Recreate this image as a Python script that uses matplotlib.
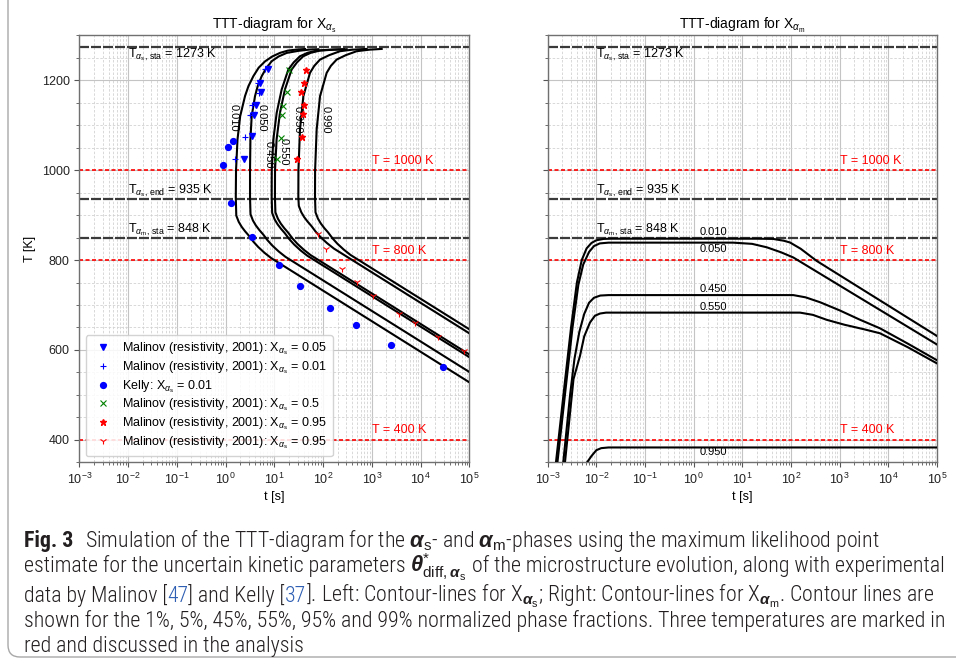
import numpy as np
import matplotlib
matplotlib.use("Agg")
import matplotlib.pyplot as plt
from matplotlib import font_manager, mathtext
from matplotlib.ticker import LogLocator, MultipleLocator, NullFormatter
from matplotlib.patches import FancyBboxPatch
from matplotlib.transforms import IdentityTransform

# ---------------------------------------------------------------- data
# characteristic temperatures [K]
T_as_sta, T_as_end, T_am_sta = 1273, 935, 848
T_marked = [1000, 800, 400]

# experimental points (t [s], T [K])
kelly_t = [0.90, 1.14, 1.44, 1.32, 3.57, 12.7, 33.6, 139, 468, 2480, 29300]
kelly_T = [1011, 1051, 1064, 928, 852, 788, 742, 693, 656, 611, 562]

mal05_t = [7.53, 5.09, 5.34, 4.21, 3.89, 3.44, 2.42]
mal05_T = [1224, 1193, 1173, 1144, 1122, 1076, 1025]

mal01_t = [6.44, 4.70, 4.92, 3.54, 3.17, 2.51, 1.56]
mal01_T = [1224, 1194, 1172, 1144, 1122, 1073, 1024]

mal50_t = [20.3, 17.9, 14.9, 14.2, 13.5, 11.2]
mal50_T = [1222, 1173, 1142, 1122, 1072, 1024]

mal95a_t = [44.7, 41.2, 35.3, 40.6, 39.4, 37.0, 29.6]
mal95a_T = [1222, 1193, 1173, 1144, 1124, 1074, 1025]

mal95b_t = [80, 115, 242, 505, 1040, 3660, 7690, 23100, 78900]
mal95b_T = [857, 825, 781, 752, 720, 679, 659, 628, 598]

# simulated contour lines, X_alpha_s  (log10 t [s], T [K])
s010_lt = [1.63, 1.46, 1.28, 1.12, 0.96, 0.81, 0.68, 0.57, 0.47, 0.40, 0.30, 0.245,
           0.215, 0.21, 0.22, 0.27, 0.33, 0.40, 0.48, 0.57, 0.67, 0.80, 0.94, 5.0]
s010_T = [1269.5, 1268.3, 1266, 1261, 1253, 1242, 1228, 1209, 1187, 1165, 1120, 1068,
          1000, 940, 899, 885, 874, 864, 854, 841, 829, 816, 804, 528]

s050_lt = [1.903, 1.73, 1.50, 1.254, 1.09, 0.946, 0.83, 0.741, 0.66, 0.604, 0.536, 0.51,
           0.502, 0.502, 0.512, 0.562, 0.622, 0.692, 0.772, 0.862, 0.962, 1.092, 1.232, 5.0]
s050_T = [1269, 1268.3, 1265.5, 1260.8, 1253, 1242.3, 1226, 1209, 1187, 1164.5, 1120, 1068,
          1000, 940, 901.9, 887.9, 876.9, 866.9, 856.9, 843.9, 831.9, 818.9, 806.9, 551]

s450_lt = [2.43, 2.15, 1.869, 1.68, 1.527, 1.40, 1.288, 1.151, 1.049, 0.98, 0.948, 0.946,
           0.956, 1.006, 1.066, 1.136, 1.216, 1.306, 1.406, 1.536, 1.676, 5.0]
s450_T = [1269, 1268, 1266, 1261, 1253.4, 1240, 1223.8, 1179.4, 1127.5, 1068, 1000, 940,
          904.7, 890.7, 879.7, 869.7, 859.7, 846.7, 834.7, 821.7, 809.7, 584]

s550_lt = [2.485, 2.21, 1.936, 1.747, 1.594, 1.467, 1.355, 1.218, 1.116, 1.047, 1.015, 1.013,
           1.023, 1.073, 1.133, 1.203, 1.283, 1.373, 1.473, 1.603, 1.743, 5.0]
s550_T = [1269, 1268, 1266, 1261, 1253.4, 1240, 1223.8, 1179.4, 1127.5, 1068, 1000, 940,
          906.1, 892.1, 881.1, 871.1, 861.1, 848.1, 836.1, 823.1, 811.1, 590]

s950_lt = [2.895, 2.60, 2.348, 2.13, 1.938, 1.82, 1.732, 1.596, 1.527, 1.495, 1.493,
           1.503, 1.553, 1.613, 1.683, 1.763, 1.853, 1.953, 2.083, 2.223, 5.0]
s950_T = [1269.7, 1268, 1264.6, 1256, 1246, 1232, 1216.4, 1164.5, 1090.5, 1000, 940,
          920.5, 906.5, 895.5, 885.5, 875.5, 862.5, 850.5, 837.5, 825.5, 637]

s990_lt = [3.203, 2.95, 2.69, 2.47, 2.279, 2.16, 2.074, 1.938, 1.869, 1.837, 1.835,
           1.845, 1.895, 1.955, 2.025, 2.105, 2.195, 2.295, 2.425, 2.565, 5.0]
s990_T = [1269.7, 1268, 1264.6, 1256, 1246, 1232, 1216.4, 1164.5, 1090.5, 1000, 940,
          906.2, 892.2, 881.2, 871.2, 861.2, 848.2, 836.2, 823.2, 811.2, 646]

# simulated contour lines, X_alpha_m  (log10 t [s], T [K])
m010_lt = [-2.83, -2.64, -2.52, -2.40, -2.30, -2.20, -2.10, -2.00, -1.85, -1.70,
           1.30, 1.63, 1.85, 1.98, 2.20, 2.528, 5.0]
m010_T = [350, 535, 650, 750, 800, 826, 838, 844, 847, 847.5,
          847.5, 847, 843, 839, 825, 798, 631]

m050_lt = [-2.80, -2.61, -2.49, -2.37, -2.27, -2.15, -2.05, -1.93, -1.75,
           0.81, 1.20, 1.50, 1.80, 2.047, 5.0]
m050_T = [350, 535, 650, 745, 790, 818, 831, 837, 838.7,
          838.7, 836, 828.4, 817, 805.7, 612]

m450_lt = [-2.68, -2.54, -2.45, -2.35, -2.25, -2.15, -2.05, -1.92, -1.75,
           2.047, 2.30, 2.60, 3.0, 3.4, 3.83, 4.4, 5.0]
m450_T = [350, 500, 580, 640, 680, 705, 716, 721, 722,
          722, 717, 706, 688, 668, 648, 614, 577]

m550_lt = [-2.645, -2.47, -2.336, -2.25, -2.131, -2.03, -1.925, -1.80,
           2.186, 2.45, 2.734, 3.1, 3.5, 3.83, 4.4, 5.0]
m550_T = [350, 535, 587, 630, 661, 676, 681, 683,
          683, 678, 667, 656, 646, 637, 606, 570]

m950_lt = [-2.19, -2.10, -2.00, -1.90, -1.75, 5.0]
m950_T = [350, 364, 377, 381.5, 383, 383]

# contour label positions (log10 t, T)
s_labels = ["0.010", "0.050", "0.450", "0.550", "0.950", "0.990"]
s_label_lt = [0.160, 0.741, 0.878, 1.199, 1.473, 2.061]
s_label_T = [1116, 1116, 1035, 1042, 1113, 1113]

m_labels = ["0.010", "0.050", "0.450", "0.550", "0.950"]
m_label_lt = [0.40, 0.40, 0.40, 0.40, 0.40]
m_label_T = [862, 824, 735, 696, 374]

# ---------------------------------------------------------------- style
plt.rcParams["font.family"] = ["Liberation Sans", "DejaVu Sans"]
plt.rcParams["mathtext.fontset"] = "custom"
plt.rcParams["mathtext.rm"] = "Liberation Sans"
plt.rcParams["mathtext.it"] = "Liberation Sans:italic"
plt.rcParams["mathtext.bf"] = "Liberation Sans:bold"
try:
    plt.rcParams["mathtext.bfit"] = "Liberation Sans:italic:bold"
except KeyError:
    pass


def mathtext_ok(s):
    try:
        mathtext.MathTextParser("path").parse(s, dpi=72)
        return True
    except Exception:
        return False


BA = r"\boldsymbol{\alpha}" if mathtext_ok(r"$\boldsymbol{\alpha}$") else r"\mathbf{\alpha}"
BT = r"\boldsymbol{\theta}" if mathtext_ok(r"$\boldsymbol{\theta}$") else r"\mathbf{\theta}"

names = {f.name for f in font_manager.fontManager.ttflist}
cap_font = "Liberation Sans"
for cand in ["Liberation Sans Narrow", "Roboto Condensed", "Open Sans Condensed"]:
    if cand in names:
        cap_font = cand
        break

W, H = 956, 664
fig = plt.figure(figsize=(W / 100, H / 100), dpi=100)
fig.patch.set_facecolor("white")


def px_rect(x0, x1, ytop, ybot):
    return [x0 / W, 1 - ybot / H, (x1 - x0) / W, (ybot - ytop) / H]


axL = fig.add_axes(px_rect(79.3, 469.3, 35.3, 462.3))
axR = fig.add_axes(px_rect(547.7, 937.0, 35.3, 462.3))


def style(ax):
    ax.set_xscale("log")
    ax.set_xlim(1e-3, 1e5)
    ax.set_ylim(350, 1300)
    ax.xaxis.set_major_locator(LogLocator(base=10, numticks=20))
    ax.xaxis.set_minor_locator(LogLocator(base=10, subs=np.arange(2, 10), numticks=20))
    ax.xaxis.set_minor_formatter(NullFormatter())
    ax.yaxis.set_major_locator(MultipleLocator(200))
    ax.yaxis.set_minor_locator(MultipleLocator(50))
    ax.grid(which="major", color="#c4c4c4", lw=0.8, ls="-")
    ax.grid(which="minor", color="#d2d2d2", lw=0.6, ls=(0, (3, 2)))
    ax.set_axisbelow(True)
    for s in ax.spines.values():
        s.set_color("#707070")
        s.set_linewidth(1.0)
    ax.tick_params(which="both", colors="#555555", labelcolor="#222222",
                   labelsize=9, direction="out")
    ax.tick_params(which="major", length=3.5)
    ax.tick_params(which="minor", length=2)
    ax.set_xlabel("t [s]", fontsize=9, labelpad=3)


def isotherms(ax, third_label):
    for T in (T_as_sta, T_as_end, T_am_sta):
        ax.axhline(T, color="#3a3a3a", lw=1.6, dashes=(4.5, 0.9), zorder=2)
    for T in T_marked:
        ax.axhline(T, color="red", lw=1.2, dashes=(2.4, 1.5), zorder=2)
        ax.text(1e3, T + 21, f"T = {T} K", color="red", fontsize=9,
                ha="left", va="center")
    ax.text(1e-2, T_as_sta - 16, r"T$_{\alpha_\mathrm{s},\,\mathrm{sta}}$ = %d K" % T_as_sta,
            fontsize=9, ha="left", va="center")
    ax.text(1e-2, T_as_end + 20, r"T$_{\alpha_\mathrm{s},\,\mathrm{end}}$ = %d K" % T_as_end,
            fontsize=9, ha="left", va="center")
    ax.text(1e-2, T_am_sta + 20, third_label % T_am_sta,
            fontsize=9, ha="left", va="center")


for ax in (axL, axR):
    style(ax)
axR.tick_params(labelleft=False)
axL.set_ylabel("T [K]", fontsize=9, labelpad=4)

axL.set_title(r"TTT-diagram for X$_{\alpha_\mathrm{s}}$", fontsize=10, pad=4)
axR.set_title(r"TTT-diagram for X$_{\alpha_\mathrm{m}}$", fontsize=10, pad=4)

isotherms(axL, r"T$_{\alpha_\mathrm{m},\,\mathrm{sta}}$ = %d K")
isotherms(axR, r"T$_{\alpha_\mathrm{m},\,\mathrm{sta}}$ = %d K")

# left panel: contour lines
for lt, T in [(s010_lt, s010_T), (s050_lt, s050_T), (s450_lt, s450_T),
              (s550_lt, s550_T), (s950_lt, s950_T), (s990_lt, s990_T)]:
    axL.plot(np.power(10.0, lt), T, color="black", lw=1.5, zorder=3)
for lab, lt, T in zip(s_labels, s_label_lt, s_label_T):
    axL.text(10 ** lt, T, lab, rotation=-90, fontsize=8, ha="center", va="center", zorder=4)

# left panel: experiments
axL.plot(mal05_t, mal05_T, "v", color="blue", ms=4.5, ls="none", zorder=5,
         label=r"Malinov (resistivity, 2001): X$_{\alpha_\mathrm{s}}$ = 0.05")
axL.plot(mal01_t, mal01_T, "+", color="blue", ms=5, mew=0.8, ls="none", zorder=5,
         label=r"Malinov (resistivity, 2001): X$_{\alpha_\mathrm{s}}$ = 0.01")
axL.plot(kelly_t, kelly_T, "o", color="blue", ms=4.2, ls="none", zorder=5,
         label=r"Kelly: X$_{\alpha_\mathrm{s}}$ = 0.01")
axL.plot(mal50_t, mal50_T, "x", color="green", ms=4.2, mew=0.8, ls="none", zorder=5,
         label=r"Malinov (resistivity, 2001): X$_{\alpha_\mathrm{s}}$ = 0.5")
axL.plot(mal95a_t, mal95a_T, "*", color="red", ms=4.5, ls="none", zorder=5,
         label=r"Malinov (resistivity, 2001): X$_{\alpha_\mathrm{s}}$ = 0.95")
axL.plot(mal95b_t, mal95b_T, "1", color="red", ms=5, mew=0.8, ls="none", zorder=5,
         label=r"Malinov (resistivity, 2001): X$_{\alpha_\mathrm{s}}$ = 0.95")
leg = axL.legend(loc="lower left", fontsize=9, numpoints=1, framealpha=0.85,
                 edgecolor="#cccccc", handletextpad=0.55, borderpad=0.4,
                 labelspacing=0.18, handlelength=2.0)
leg.set_zorder(6)

# right panel: contour lines
for lt, T in [(m010_lt, m010_T), (m050_lt, m050_T), (m450_lt, m450_T),
              (m550_lt, m550_T), (m950_lt, m950_T)]:
    axR.plot(np.power(10.0, lt), T, color="black", lw=1.5, zorder=3)
for lab, lt, T in zip(m_labels, m_label_lt, m_label_T):
    axR.text(10 ** lt, T, lab, fontsize=8, ha="center", va="center", zorder=4)

# ---------------------------------------------------------------- caption
frame = FancyBboxPatch((8, 7), 1100, 800, boxstyle="round,pad=0,rounding_size=12",
                       transform=IdentityTransform(), facecolor="none",
                       edgecolor="#a8a8a8", lw=1.0)
fig.patches.append(frame)

renderer = fig.canvas.get_renderer()
ink = "#231f20"
cite = "#2f5fb3"
cap_weight = "light"

line1 = ("Simulation of the TTT-diagram for the $" + BA + r"_\mathrm{s}$- and $" + BA +
         r"_\mathrm{m}$-phases using the maximum likelihood point")
# pieces: (text, colour, extra space after)
line2 = [("estimate for the uncertain kinetic parameters", ink, True),
         ("$" + BT + r"^{*}_{\mathrm{diff}," + BA + r"_\mathrm{s}}$", ink, True),
         ("of the microstructure evolution, along with experimental", ink, False)]
line3 = [("data by Malinov [", ink, False), ("47", cite, False),
         ("] and Kelly [", ink, False), ("37", cite, False),
         ("]. Left: Contour-lines for X$_{" + BA + r"_\mathrm{s}}$; Right: Contour-lines for X$_{" +
          BA + r"_\mathrm{m}}$. Contour lines are", ink, False)]
line4 = ("shown for the 1%, 5%, 45%, 55%, 95% and 99% normalized phase fractions. "
         "Three temperatures are marked in")
line5 = "red and discussed in the analysis"


def text_width(s, fs):
    t = fig.text(0, 0, s, fontsize=fs, family=cap_font, weight=cap_weight)
    w = t.get_window_extent(renderer).width
    t.remove()
    return w


cfs = 10 * 922.0 / text_width(line4, 10)
space = text_width("n n", cfs) - text_width("nn", cfs)

x_left = 24
base = [547, 572, 602, 627, 652]


def put(x_px, y_px, s, color=ink, weight=cap_weight):
    t = fig.text(x_px / W, 1 - y_px / H, s, fontsize=cfs, family=cap_font,
                 color=color, weight=weight, ha="left", va="baseline")
    return t.get_window_extent(renderer).width


def put_pieces(y_px, pieces):
    x = x_left
    for s, c, gap in pieces:
        x += put(x, y_px, s, color=c)
        if gap:
            x += space


put(x_left, base[0], "Fig. 3", weight="bold")
put(85, base[0], line1)
put_pieces(base[1], line2)
put_pieces(base[2], line3)
put(x_left, base[3], line4)
put(x_left, base[4], line5)

fig.savefig("out.png", dpi=100)
